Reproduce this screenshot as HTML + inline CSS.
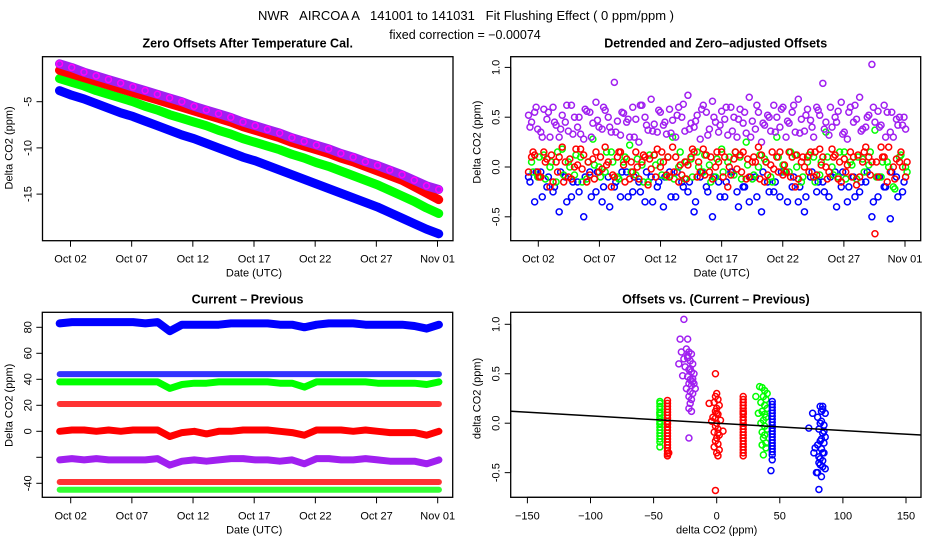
<!DOCTYPE html>
<html><head><meta charset="utf-8"><style>
html,body{margin:0;padding:0;background:#fff;}
svg{display:block;font-family:"Liberation Sans",sans-serif;}
</style></head><body>
<svg id="chart" width="936" height="540" viewBox="0 0 936 540" xmlns="http://www.w3.org/2000/svg">
<rect width="936" height="540" fill="#fff"/>
<text x="466" y="20" font-size="13" text-anchor="middle" xml:space="preserve">NWR   AIRCOA A   141001 to 141031   Fit Flushing Effect ( 0 ppm/ppm )</text>
<text x="465" y="39" font-size="12.5" text-anchor="middle">fixed correction = −0.00074</text>
<g id="layer"></g>
</svg>
<script>
// ---- data ----
const colors = {purple:'#a020f0', red:'#ff0000', green:'#00ff00', blue:'#0000ff'};
const dateTicks = [2,7,12,17,22,27,32];
const dateTickLabels = ['Oct 02','Oct 07','Oct 12','Oct 17','Oct 22','Oct 27','Nov 01'];
// top-left: daily offsets (day 1..32)
const tlPurple = [-0.9,-1.3,-1.8,-2.2,-2.6,-3.0,-3.4,-3.8,-4.2,-4.6,-5.0,-5.5,-5.9,-6.3,-6.7,-7.2,-7.6,-8.0,-8.4,-8.9,-9.3,-9.7,-10.1,-10.6,-11.0,-11.5,-11.9,-12.4,-12.9,-13.5,-14.1,-14.5];
const tlRed = [-1.6,-2.0,-2.4,-2.8,-3.2,-3.6,-4.0,-4.4,-4.8,-5.2,-5.6,-6.0,-6.4,-6.8,-7.2,-7.7,-8.1,-8.5,-8.9,-9.4,-9.8,-10.2,-10.6,-11.1,-11.5,-12.0,-12.5,-13.0,-13.5,-14.2,-14.9,-15.6];
const tlGreen = [-2.5,-2.9,-3.3,-3.8,-4.2,-4.6,-5.0,-5.5,-5.9,-6.4,-6.8,-7.2,-7.6,-8.1,-8.5,-9.0,-9.4,-9.8,-10.2,-10.7,-11.1,-11.6,-12.0,-12.5,-13.0,-13.5,-14.0,-14.6,-15.2,-15.8,-16.5,-17.1];
const tlBlue = [-3.8,-4.3,-4.7,-5.2,-5.7,-6.2,-6.6,-7.1,-7.6,-8.1,-8.6,-9.0,-9.5,-10.0,-10.5,-11.0,-11.4,-11.9,-12.4,-12.9,-13.4,-13.9,-14.4,-14.9,-15.4,-15.9,-16.4,-17.0,-17.6,-18.2,-18.8,-19.3];
// top-right: detrended offsets, several samples per half-day
const trPurple = [0.52,0.55,0.35,0.48,0.6,0.3,0.45,0.62,0.4,0.28,0.55,0.65,0.38,0.5,0.85,0.32,0.45,0.6,0.25,0.5,0.68,0.35,0.42,0.58,0.3,0.5,0.72,0.4,0.28,0.55,0.66,0.35,0.48,0.6,0.3,0.44,0.7,0.38,0.25,0.52,0.62,0.4,0.3,0.55,0.68,0.36,0.47,0.6,0.84,0.32,0.5,0.65,0.28,0.45,0.7,0.4,1.03,0.56,0.62,0.35,0.48,0.42];
const trPurpleB = [0.45,0.38,0.58,0.3,0.42,0.52,0.36,0.5,0.33,0.56,0.44,0.4,0.57,0.35,0.46,0.54,0.3,0.48,0.62,0.37,0.43,0.55,0.33,0.47,0.6,0.36,0.44,0.52,0.62,0.38,0.45,0.56,0.32,0.5,0.58,0.34,0.46,0.55,0.42,0.36,0.5,0.6,0.44,0.35,0.48,0.58,0.3,0.52,0.45,0.4,0.56,0.35,0.6,0.48,0.38,0.52,0.45,0.42,0.55,0.3,0.5,0.38];
const trPurpleC = [0.4,0.6,0.3,0.55,0.45,0.38,0.62,0.33,0.5,0.58,0.3,0.47,0.6,0.4,0.35,0.55,0.48,0.3,0.62,0.42,0.36,0.57,0.45,0.34,0.52,0.63,0.38,0.46,0.58,0.32,0.5,0.42,0.6,0.36,0.48,0.55,0.3,0.62,0.44,0.5,0.35,0.58,0.46,0.62,0.34,0.52,0.4,0.57,0.38,0.6,0.45,0.33,0.55,0.62,0.36,0.5,0.6,0.4,0.3,0.55,0.42,0.5];
const trRed = [0.1,-0.05,0.15,-0.2,0.05,0.2,-0.1,0.0,0.18,-0.15,0.08,-0.05,0.2,-0.2,0.1,0.02,-0.12,0.15,0.05,-0.18,0.12,0.0,-0.08,0.2,-0.15,0.05,0.1,-0.1,0.18,-0.05,0.0,0.15,-0.2,0.08,0.12,-0.12,0.05,0.2,-0.15,0.02,0.1,-0.08,0.15,-0.2,0.05,0.1,-0.1,0.18,0.0,0.18,-0.12,0.08,0.15,-0.18,0.05,0.1,-0.67,0.2,-0.15,0.0,0.05,-0.1];
const trRedB = [-0.05,0.12,-0.1,0.08,-0.15,0.1,0.05,-0.12,0.02,0.12,-0.08,0.15,-0.02,0.05,-0.1,0.15,0.08,-0.05,-0.12,0.1,-0.02,0.18,0.05,-0.1,0.1,-0.08,0.02,0.15,-0.05,0.12,-0.12,0.05,0.1,-0.08,-0.02,0.15,-0.1,0.05,0.12,-0.08,-0.02,0.15,-0.05,0.1,-0.12,0.0,0.15,-0.08,0.1,-0.05,0.12,-0.15,0.02,0.1,-0.1,0.2,0.05,-0.1,0.1,-0.05,0.08,0.0];
const trRedC = [0.15,-0.1,0.05,0.12,-0.05,-0.15,0.08,0.18,-0.02,0.05,-0.12,0.1,0.02,-0.08,0.15,-0.15,0.05,0.0,0.12,0.08,-0.1,0.15,0.1,-0.05,0.02,-0.12,0.18,0.05,-0.08,0.1,0.15,-0.1,0.0,0.15,-0.05,0.08,0.1,-0.12,0.05,0.15,-0.05,0.02,-0.1,0.12,0.1,-0.05,0.15,0.02,-0.12,0.1,0.05,-0.05,-0.1,0.12,0.15,-0.08,0.05,0.1,0.2,-0.12,0.15,0.05];
const trGreen = [0.05,-0.1,0.12,0.0,-0.15,0.18,0.05,-0.08,0.1,-0.12,0.28,0.0,-0.05,0.15,-0.1,0.05,0.22,-0.08,0.02,-0.15,0.12,0.05,-0.1,0.3,0.0,-0.12,0.08,0.15,-0.05,0.02,-0.1,0.18,0.05,-0.08,0.1,0.25,-0.12,0.0,0.08,-0.1,0.3,0.02,-0.05,0.12,-0.15,0.05,0.1,-0.08,0.35,0.0,-0.1,0.15,0.05,-0.12,0.08,0.02,0.37,-0.1,0.05,-0.2,0.1,0.0];
const trGreenB = [-0.05,0.1,-0.12,0.05,0.15,-0.08,0.0,0.12,-0.15,0.05,0.02,-0.1,0.15,0.05,-0.12,0.1,-0.05,0.08,-0.15,0.12,0.02,-0.08,0.1,-0.12,0.15,0.05,-0.1,0.0,0.12,-0.15,0.08,-0.05,0.1,0.15,-0.12,0.02,-0.08,0.12,0.05,-0.15,0.1,-0.05,0.15,0.0,-0.1,0.12,-0.15,0.05,0.1,-0.08,0.15,-0.12,0.02,0.1,-0.05,0.15,-0.1,0.05,0.0,-0.22,0.12,-0.05];
const trBlue = [-0.1,-0.35,-0.05,-0.2,-0.25,-0.45,-0.1,-0.3,-0.15,-0.5,-0.05,-0.25,-0.35,-0.1,-0.2,-0.3,-0.05,-0.25,-0.15,-0.35,-0.1,-0.2,-0.4,-0.05,-0.3,-0.15,-0.25,-0.45,-0.1,-0.2,-0.5,-0.15,-0.3,-0.05,-0.25,-0.2,-0.35,-0.1,-0.45,-0.15,-0.25,-0.3,-0.05,-0.2,-0.35,-0.45,-0.1,-0.25,-0.15,-0.3,-0.05,-0.2,-0.35,-0.1,-0.25,-0.15,-0.5,-0.3,-0.2,-0.52,-0.1,-0.25];
const trBlueB = [-0.15,-0.05,-0.3,-0.1,-0.2,-0.05,-0.35,-0.15,-0.25,-0.1,-0.3,-0.05,-0.2,-0.4,-0.15,-0.05,-0.3,-0.1,-0.25,-0.05,-0.35,-0.15,-0.1,-0.3,-0.05,-0.2,-0.15,-0.35,-0.05,-0.25,-0.1,-0.3,-0.15,-0.05,-0.4,-0.2,-0.1,-0.3,-0.05,-0.25,-0.15,-0.05,-0.35,-0.1,-0.2,-0.3,-0.05,-0.15,-0.25,-0.1,-0.4,-0.05,-0.2,-0.3,-0.15,-0.05,-0.35,-0.1,-0.2,-0.05,-0.3,-0.15];
// bottom-left: current - previous, daily (day 1..32)
const blBlue83 = [83,84,84,84,84,84,84,83,84,77,82,82,82,82,83,83,83,83,82,82,80,82,83,83,83,82,82,82,82,81,79,82];
const blBlue44 = [44,44,44,44,44,44,44,44,44,44,44,44,44,44,44,44,44,44,44,44,44,44,44,44,44,44,44,44,44,44,44,44];
const blGreen38 = [38,38,38,38,38,38,38,38,38,33,36,37,37,38,38,38,38,38,37,37,34,38,38,38,38,38,37,37,37,37,36,38];
const blRed21 = [21,21,21,21,21,21,21,21,21,21,21,21,21,21,21,21,21,21,21,21,21,21,21,21,21,21,21,21,21,21,21,21];
const blRed0 = [0,1,1,0,1,0,1,1,1,-4,-1,0,-2,0,0,1,1,1,0,-1,-3,1,1,1,0,1,0,-1,-1,-1,-3,0];
const blPurple = [-22,-21,-22,-21,-22,-22,-22,-22,-21,-26,-23,-22,-23,-22,-21,-21,-22,-22,-23,-22,-25,-21,-21,-22,-22,-21,-22,-23,-23,-23,-25,-22];
const blRedM39 = [-39,-39,-39,-39,-39,-39,-39,-39,-39,-39,-39,-39,-39,-39,-39,-39,-39,-39,-39,-39,-39,-39,-39,-39,-39,-39,-39,-39,-39,-39,-39,-39];
const blGreenM45 = [-45,-45,-45,-45,-45,-45,-45,-45,-45,-45,-45,-45,-45,-45,-45,-45,-45,-45,-45,-45,-45,-45,-45,-45,-45,-45,-45,-45,-45,-45,-45,-45];
// bottom-right: offsets vs current-previous
const brGreenAX = [-45,-45,-45,-45,-45,-45,-45,-45,-45,-45,-45,-45,-45,-45,-45,-45,-45,-45];
const brGreenAY = [0.22,0.2,0.17,0.14,0.11,0.08,0.05,0.02,-0.01,-0.04,-0.07,-0.1,-0.13,-0.16,-0.19,0.0,0.1,-0.24];
const brRedAX = [-39,-39,-39,-39,-39,-39,-39,-39,-39,-39,-39,-39,-39,-39,-39,-39,-39,-39,-39,-39,-39,-38];
const brRedAY = [0.23,0.2,0.17,0.14,0.11,0.08,0.05,0.02,-0.01,-0.04,-0.07,-0.1,-0.13,-0.16,-0.19,-0.22,-0.25,-0.28,-0.31,-0.33,0.0,-0.3];
const brPurpleX = [-24,-22,-20,-23,-21,-19,-25,-22,-20,-18,-23,-21,-19,-22,-20,-24,-21,-19,-22,-20,-21,-22,-17,-18,-30,-28,-26,-27,-29,-23,-26,-22,-21,-19,-23,-20];
const brPurpleY = [0.75,0.72,0.7,0.66,0.63,0.6,0.57,0.54,0.52,0.5,0.47,0.44,0.42,0.4,0.38,0.35,0.32,0.3,0.27,0.24,0.2,0.15,0.35,0.4,0.6,0.72,0.65,0.48,0.85,0.85,1.05,-0.15,0.55,0.45,0.68,0.12];
const brRed0X = [0,-1,1,-2,2,0,-1,1,-3,3,0,-1,1,-2,2,0,-1,1,-2,2,0,-4,-6,5,-1,1,-1,0,1,-1];
const brRed0Y = [0.3,0.27,0.24,0.21,0.18,0.15,0.12,0.09,0.06,0.03,0.0,-0.03,-0.06,-0.09,-0.12,-0.15,-0.18,-0.21,-0.24,-0.27,-0.3,0.02,0.2,-0.08,0.5,-0.33,-0.68,0.1,-0.1,0.05];
const brRed21X = [21,21,21,21,21,21,21,21,21,21,21,21,21,21,21,21,21,21,21,21,21,21];
const brRed21Y = [0.27,0.24,0.21,0.18,0.15,0.12,0.09,0.06,0.03,0.0,-0.03,-0.06,-0.09,-0.12,-0.15,-0.18,-0.21,-0.24,-0.27,-0.3,-0.33,0.1];
const brGreen38X = [36,38,40,37,39,35,38,40,36,38,39,37,35,38,40,36,38,37,39,31,33,34,37,39,36];
const brGreen38Y = [0.36,0.33,0.3,0.27,0.24,0.21,0.18,0.15,0.12,0.09,0.06,0.03,0.0,-0.03,-0.06,-0.09,-0.12,-0.15,-0.2,0.27,0.1,0.37,-0.32,-0.25,-0.22];
const brBlue44X = [44,44,44,44,44,44,44,44,44,44,44,44,44,44,44,44,44,44,44,44,43];
const brBlue44Y = [0.22,0.19,0.16,0.13,0.1,0.07,0.04,0.01,-0.02,-0.05,-0.08,-0.11,-0.14,-0.17,-0.2,-0.23,-0.26,-0.29,-0.32,-0.37,-0.48];
const brBlue83X = [82,84,86,80,83,85,81,84,86,82,80,83,85,81,84,82,86,80,83,85,82,84,81,83,76,78,73,77,79,81,84,85,83,82,84];
const brBlue83Y = [0.17,0.14,0.1,0.06,0.02,-0.02,-0.06,-0.1,-0.14,-0.18,-0.22,-0.26,-0.3,-0.34,-0.38,-0.42,-0.46,-0.5,-0.54,-0.2,0.0,-0.3,-0.4,0.12,0.1,-0.25,-0.05,-0.3,-0.5,-0.67,0.17,-0.08,-0.16,-0.36,-0.44];
const brFitIntercept = 0.0;
const brFitSlope = -0.00074;

// ---- drawing ----
const NS='http://www.w3.org/2000/svg';
const layer=document.getElementById('layer');
function mk(tag, attrs, parent){const e=document.createElementNS(NS,tag);for(const k in attrs)e.setAttribute(k,attrs[k]);(parent||layer).appendChild(e);return e;}
function lin(d0,d1,r0,r1){return v=>r0+(v-d0)*(r1-r0)/(d1-d0);}

function frame(name,x0,y0,x1,y1,title){
  const g=mk('g',{});
  
  
  const r=mk('rect',{x:x0,y:y0,width:x1-x0,height:y1-y0,fill:'none',stroke:'#000','stroke-width':1.3},g);
  
  
  const t=mk('text',{x:(x0+x1)/2,y:y0-9,'font-size':12.5,'font-weight':'bold','text-anchor':'middle'},g);
  t.textContent=title;
  
  
  return g;
}
function xAxis(g,sx,vals,labels,yb,title){
  vals.forEach((v,i)=>{
    const x=sx(v);
    const tk=mk('line',{x1:x,x2:x,y1:yb,y2:yb+6,stroke:'#000','stroke-width':1},g);
    
    
    const t=mk('text',{x:x,y:yb+22,'font-size':11,'text-anchor':'middle'},g);
    t.textContent=labels[i];
    
    
  });
  const xs=vals.map(sx);
  const ax=mk('line',{x1:Math.min(...xs),x2:Math.max(...xs),y1:yb,y2:yb,stroke:'#000','stroke-width':1},g);
  
  
  const tt=mk('text',{x:(Math.min(...xs)+Math.max(...xs))/2,y:yb+36,'font-size':11,'text-anchor':'middle'},g);
  tt.textContent=title;
  
  
}
function yAxis(g,sy,vals,labels,xl,title){
  vals.forEach((v,i)=>{
    const y=sy(v);
    const tk=mk('line',{x1:xl-6,x2:xl,y1:y,y2:y,stroke:'#000','stroke-width':1},g);
    
    
    if(labels[i]!==''){
      const t=mk('text',{x:0,y:0,'font-size':11,'text-anchor':'middle',transform:`translate(${xl-11},${y}) rotate(-90)`},g);
      t.textContent=labels[i];
      
      
    }
  });
  const ys=vals.map(sy);
  const ax=mk('line',{x1:xl,x2:xl,y1:Math.min(...ys),y2:Math.max(...ys),stroke:'#000','stroke-width':1},g);
  
  
  const tt=mk('text',{x:0,y:0,'font-size':11,'text-anchor':'middle',transform:`translate(${xl-30},${(Math.min(...ys)+Math.max(...ys))/2}) rotate(-90)`},g);
  tt.textContent=title;
  
  
}
function pts(g,name,xs,ys,sx,sy,col){
  const s=mk('g',{},g);
  
  
  xs.forEach((xv,i)=>{
    const c=mk('circle',{cx:sx(xv),cy:sy(ys[i]),r:3,fill:'none',stroke:col,'stroke-width':1.5},s);
    
    
  });
}
function band(g,name,days,vals,sx,sy,col,w,op){
  const p=mk('polyline',{points:vals.map((v,i)=>sx(days[i])+','+sy(v)).join(' '),fill:'none',stroke:col,'stroke-width':w,'stroke-linejoin':'round','stroke-linecap':'round',opacity:op},g);
  
  
}
const dayIdx = n => Array.from({length:n},(_,i)=>1.1+i*(31/(n-1)));
const halfDay = n => Array.from({length:n},(_,i)=>1.2+i*(30.6/(n-1)));

// Panel TL
{
  const g=frame('zero-offsets-panel',42.5,56.7,453,240.7,'Zero Offsets After Temperature Cal.');
  const sx=lin(2,32,70.5,437.5), sy=lin(-5,-10,101.7,147.9);
  yAxis(g,sy,[-5,-10,-15],['-5','-10','-15'],42.5,'Delta CO2 (ppm)');
  xAxis(g,sx,dateTicks,dateTickLabels,240.7,'Date (UTC)');
  const d=dayIdx(32);
  band(g,'series-blue',d,tlBlue,sx,sy,colors.blue,9,1);
  band(g,'series-green',d,tlGreen,sx,sy,colors.green,9,1);
  band(g,'series-red',d,tlRed,sx,sy,colors.red,9,1);
  band(g,'series-purple',d,tlPurple,sx,sy,colors.purple,9,1);
  pts(g,'series-purple-points',d,tlPurple,sx,sy,'#ff00ff');
}
// Panel TR
{
  const g=frame('detrended-offsets-panel',510.7,56.7,920.7,240.7,'Detrended and Zero\u2013adjusted Offsets');
  const sx=lin(2,32,538.3,905), sy=lin(0,1,167,67.4);
  yAxis(g,sy,[-0.5,0,0.5,1],['-0.5','0.0','0.5','1.0'],510.7,'Delta CO2 (ppm)');
  xAxis(g,sx,dateTicks,dateTickLabels,240.7,'Date (UTC)');
  const d=halfDay(62);
  const d2=d.map(v=>v+0.25), d3=d.map(v=>v+0.12), d4=d.map(v=>v+0.37);
  pts(g,'series-blue',d,trBlue,sx,sy,colors.blue);
  pts(g,'series-blue-b',d3,trBlueB,sx,sy,colors.blue);
  pts(g,'series-green',d2,trGreen,sx,sy,colors.green);
  pts(g,'series-green-b',d4,trGreenB,sx,sy,colors.green);
  pts(g,'series-purple',d,trPurple,sx,sy,colors.purple);
  pts(g,'series-purple-b',d2,trPurpleB,sx,sy,colors.purple);
  pts(g,'series-purple-c',d3,trPurpleC,sx,sy,colors.purple);
  pts(g,'series-red',d2,trRed,sx,sy,colors.red);
  pts(g,'series-red-b',d,trRedB,sx,sy,colors.red);
  pts(g,'series-red-c',d4,trRedC,sx,sy,colors.red);
}
// Panel BL
{
  const g=frame('current-minus-previous-panel',42.3,312.3,452.7,497.3,'Current \u2013 Previous');
  const sx=lin(2,32,70.7,437.7), sy=lin(0,80,431.3,327.3);
  yAxis(g,sy,[-40,-20,0,20,40,60,80],['-40','','0','20','40','60','80'],42.3,'Delta CO2 (ppm)');
  xAxis(g,sx,dateTicks,dateTickLabels,497.3,'Date (UTC)');
  const d=dayIdx(32);
  band(g,'series-blue-83',d,blBlue83,sx,sy,colors.blue,8,1);
  band(g,'series-blue-44',d,blBlue44,sx,sy,colors.blue,6,0.8);
  band(g,'series-green-38',d,blGreen38,sx,sy,colors.green,7,1);
  band(g,'series-red-21',d,blRed21,sx,sy,colors.red,6,0.8);
  band(g,'series-red-0',d,blRed0,sx,sy,colors.red,7,1);
  band(g,'series-purple-m22',d,blPurple,sx,sy,colors.purple,7,1);
  band(g,'series-red-m39',d,blRedM39,sx,sy,colors.red,6,0.8);
  band(g,'series-green-m45',d,blGreenM45,sx,sy,colors.green,6,0.8);
}
// Panel BR
{
  const g=frame('offsets-vs-difference-panel',510.7,312.3,921,497.3,'Offsets vs. (Current \u2013 Previous)');
  const sx=lin(0,150,716.7,906), sy=lin(0,1,423.2,324.3);
  yAxis(g,sy,[-0.5,0,0.5,1],['-0.5','0.0','0.5','1.0'],510.7,'delta CO2 (ppm)');
  xAxis(g,sx,[-150,-100,-50,0,50,100,150],['\u2212150','\u2212100','\u221250','0','50','100','150'],497.3,'delta CO2 (ppm)');
  pts(g,'group-green-m45',brGreenAX,brGreenAY,sx,sy,colors.green);
  pts(g,'group-red-m39',brRedAX,brRedAY,sx,sy,colors.red);
  pts(g,'group-purple-m22',brPurpleX,brPurpleY,sx,sy,colors.purple);
  pts(g,'group-red-0',brRed0X,brRed0Y,sx,sy,colors.red);
  pts(g,'group-red-21',brRed21X,brRed21Y,sx,sy,colors.red);
  pts(g,'group-green-38',brGreen38X,brGreen38Y,sx,sy,colors.green);
  pts(g,'group-blue-44',brBlue44X,brBlue44Y,sx,sy,colors.blue);
  pts(g,'group-blue-83',brBlue83X,brBlue83Y,sx,sy,colors.blue);
  const xa=-163, xb=162;
  const fl=mk('line',{x1:sx(xa),y1:sy(brFitIntercept+brFitSlope*xa),x2:sx(xb),y2:sy(brFitIntercept+brFitSlope*xb),stroke:'#000','stroke-width':1.5},g);
  
  
}
</script>
</body></html>
